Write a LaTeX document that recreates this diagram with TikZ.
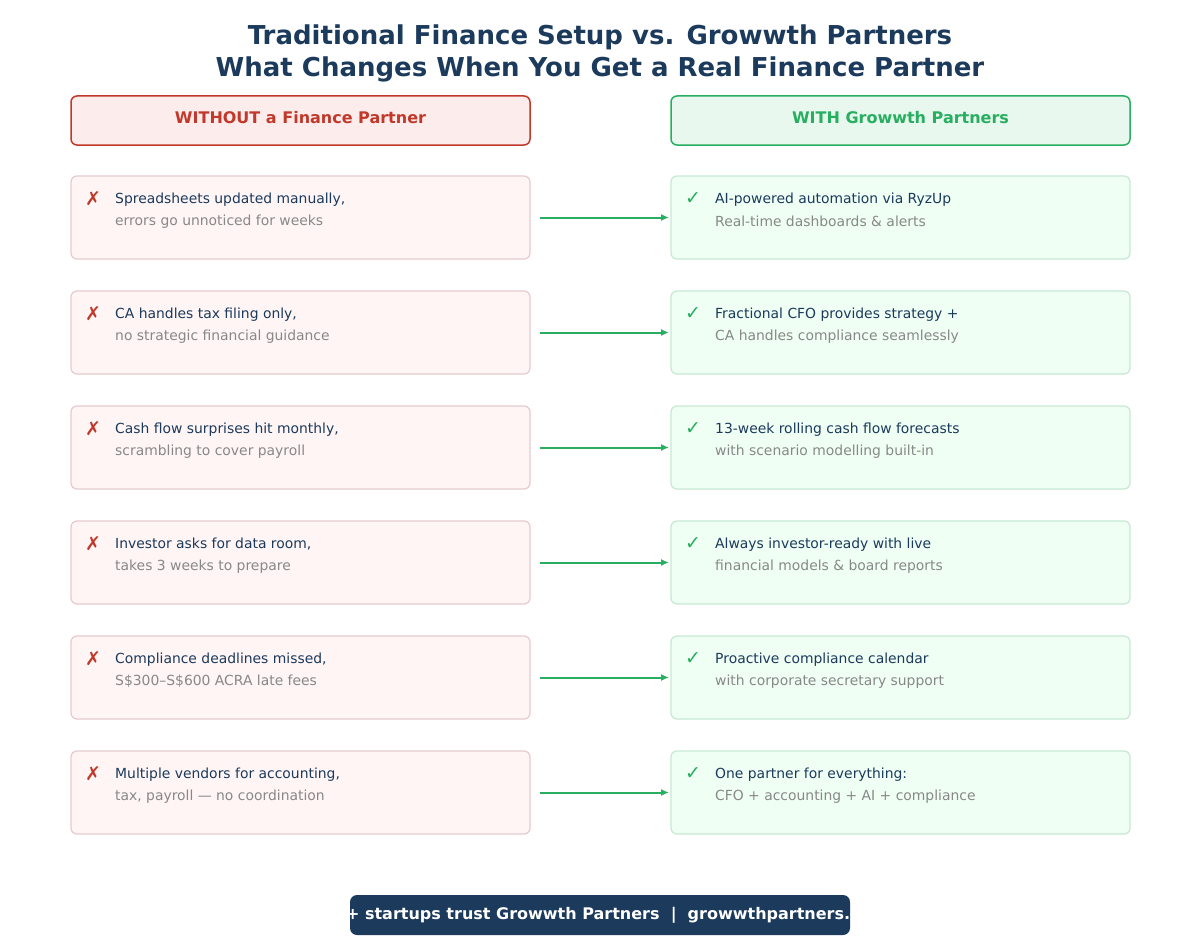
\documentclass[tikz,border=0pt]{standalone}
\usepackage{fontspec}
\setmainfont{DejaVu Sans}
\definecolor{navy}{HTML}{1B3A5C}
\definecolor{redt}{HTML}{C0392B}
\definecolor{greent}{HTML}{27AE60}
\definecolor{redfill}{HTML}{FDECEC}
\definecolor{greenfill}{HTML}{E8F8EE}
\definecolor{lrfill}{HTML}{FFF5F5}
\definecolor{lrdraw}{HTML}{E6CACE}
\definecolor{rgfill}{HTML}{F0FFF4}
\definecolor{rgdraw}{HTML}{C6E8D3}
\definecolor{greyt}{HTML}{888888}
\tikzset{
 lbox/.style={draw=lrdraw,fill=lrfill,line width=1.2pt,rounded corners=6pt},
 rbox/.style={draw=rgdraw,fill=rgfill,line width=1.2pt,rounded corners=6pt},
 l1/.style={anchor=west,text=navy,font=\fontsize{13.9}{16}\selectfont,inner sep=0},
 l2/.style={anchor=west,text=greyt,font=\fontsize{13.9}{16}\selectfont,inner sep=0},
 arr/.style={draw=greent,line width=2pt,-{Latex[length=8pt,width=7pt]}},
}
\usetikzlibrary{arrows.meta}
\begin{document}
\begin{tikzpicture}[x=1pt,y=-1pt]
\useasboundingbox (0,0) rectangle (1200,950);
\fill[white] (0,0) rectangle (1200,950);
\node[text=navy,font=\bfseries\fontsize{26}{32}\selectfont,align=center] (title) at (600,53) {Traditional Finance Setup vs. Growwth Partners\\What Changes When You Get a Real Finance Partner};
\draw[draw=redt,fill=redfill,line width=1.5pt,rounded corners=6pt] (71,96) rectangle (530,145);
\node[text=redt,font=\bfseries\fontsize{16}{19}\selectfont] (lh) at (300.5,117.5) {WITHOUT a Finance Partner};
\draw[draw=greent,fill=greenfill,line width=1.5pt,rounded corners=6pt] (671,96) rectangle (1130,145);
\node[text=greent,font=\bfseries\fontsize{16}{19}\selectfont] (rh) at (900.5,117.5) {WITH Growwth Partners};
\foreach \i/\la/\lb/\ra/\rb in {
0/{Spreadsheets updated manually,}/{errors go unnoticed for weeks}/{AI-powered automation via RyzUp}/{Real-time dashboards \& alerts},
1/{CA handles tax filing only,}/{no strategic financial guidance}/{Fractional CFO provides strategy +}/{CA handles compliance seamlessly},
2/{Cash flow surprises hit monthly,}/{scrambling to cover payroll}/{13-week rolling cash flow forecasts}/{with scenario modelling built-in},
3/{Investor asks for data room,}/{takes 3 weeks to prepare}/{Always investor-ready with live}/{financial models \& board reports},
4/{Compliance deadlines missed,}/{S\$300–S\$600 ACRA late fees}/{Proactive compliance calendar}/{with corporate secretary support},
5/{Multiple vendors for accounting,}/{tax, payroll — no coordination}/{One partner for everything:}/{CFO + accounting + AI + compliance}}{
 \pgfmathsetmacro{\yy}{176+115*\i}
 \draw[lbox] (71,\yy) rectangle (530,\yy+83);
 \draw[rbox] (671,\yy) rectangle (1130,\yy+83);
 \node[text=redt,font=\fontsize{19}{20}\selectfont] (x\i) at (93,\yy+23) {✗};
 \node[text=greent,font=\fontsize{19}{20}\selectfont] (c\i) at (693,\yy+23) {✓};
 \node[l1] (la\i) at (115,\yy+23.5) {\la};
 \node[l2] (lb\i) at (115,\yy+45.5) {\lb};
 \node[l1] (ra\i) at (715,\yy+23.5) {\ra};
 \node[l2] (rb\i) at (715,\yy+45.5) {\rb};
 \coordinate (s\i) at (540,\yy+41.5);
 \coordinate (e\i) at (669,\yy+41.5);
 \draw[arr] (s\i) -- (e\i);
}
\fill[navy,rounded corners=7pt] (350,895) rectangle (850,935);
\begin{scope}
\clip[rounded corners=7pt] (350,895) rectangle (850,935);
\node[text=white,font=\bfseries\fontsize{16}{18}\selectfont] (ban) at (600,915) {500+ startups trust Growwth Partners \ | \ growwthpartners.com};
\end{scope}
\end{tikzpicture}
\end{document}
